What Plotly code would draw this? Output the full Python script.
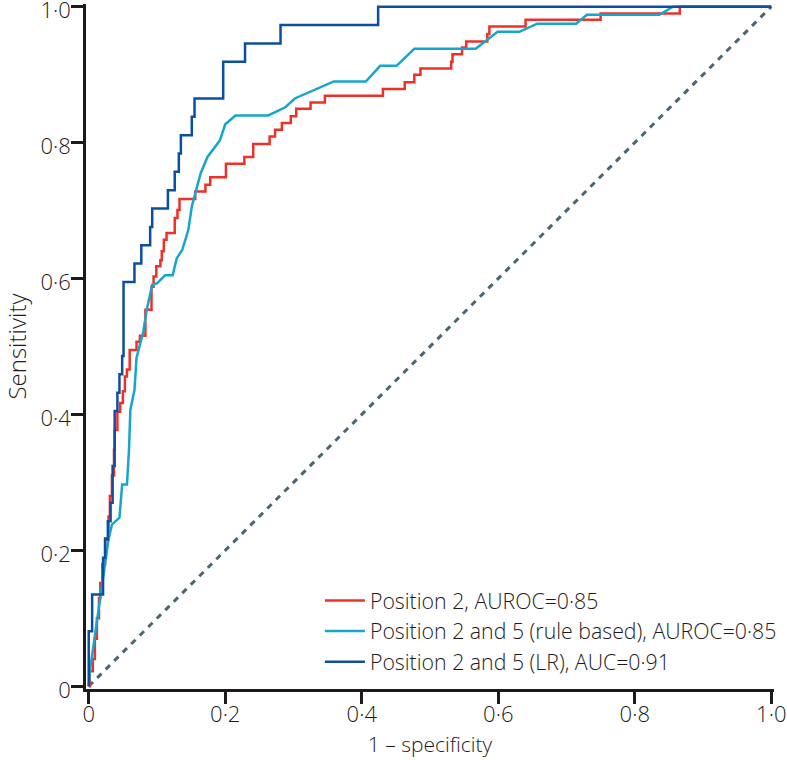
import plotly.graph_objects as go

# ROC curve data (1 - specificity, sensitivity)
pos2_fpr = [0, 0.0015, 0.006, 0.009, 0.012, 0.015, 0.017, 0.020, 0.024, 0.029, 0.031, 0.034, 0.037,
            0.038, 0.042, 0.046, 0.050, 0.053, 0.056, 0.060, 0.070, 0.075, 0.083, 0.092, 0.095,
            0.099, 0.105, 0.107, 0.110, 0.114, 0.126, 0.130, 0.133, 0.156, 0.171, 0.178, 0.201,
            0.228, 0.241, 0.265, 0.273, 0.283, 0.296, 0.304, 0.325, 0.346, 0.431, 0.463, 0.477,
            0.486, 0.531, 0.533, 0.547, 0.553, 0.584, 0.587, 0.640, 0.750, 0.866, 1.0]
pos2_tpr = [0, 0.022, 0.040, 0.070, 0.100, 0.130, 0.152, 0.180, 0.218, 0.250, 0.280, 0.310, 0.348,
            0.377, 0.404, 0.417, 0.434, 0.456, 0.466, 0.495, 0.507, 0.516, 0.554, 0.588, 0.603,
            0.618, 0.627, 0.640, 0.657, 0.667, 0.689, 0.701, 0.717, 0.728, 0.738, 0.749, 0.769,
            0.779, 0.798, 0.809, 0.819, 0.829, 0.839, 0.850, 0.859, 0.869, 0.879, 0.889, 0.900,
            0.909, 0.919, 0.930, 0.940, 0.949, 0.960, 0.971, 0.981, 0.990, 1.0, 1.0]

rule_fpr = [0, 0.002, 0.029, 0.034, 0.045, 0.049, 0.056, 0.059, 0.061, 0.067, 0.070, 0.080, 0.085,
            0.093, 0.100, 0.112, 0.123, 0.129, 0.137, 0.146, 0.151, 0.159, 0.164, 0.174, 0.192,
            0.200, 0.215, 0.263, 0.288, 0.302, 0.359, 0.406, 0.427, 0.451, 0.477, 0.567, 0.599,
            0.631, 0.657, 0.714, 0.730, 0.836, 0.856, 1.0]
rule_tpr = [0, 0.025, 0.216, 0.238, 0.248, 0.297, 0.297, 0.348, 0.407, 0.436, 0.483, 0.522, 0.554,
            0.591, 0.593, 0.605, 0.605, 0.630, 0.642, 0.672, 0.706, 0.735, 0.755, 0.779, 0.803,
            0.827, 0.840, 0.840, 0.852, 0.865, 0.890, 0.890, 0.913, 0.913, 0.938, 0.938, 0.963,
            0.963, 0.975, 0.975, 0.988, 0.988, 1.0, 1.0]

lr_fpr = [0, 0, 0.005, 0.021, 0.024, 0.028, 0.032, 0.035, 0.038, 0.042, 0.045, 0.049, 0.051,
          0.067, 0.077, 0.090, 0.093, 0.116, 0.126, 0.132, 0.135, 0.151, 0.155, 0.197, 0.229,
          0.281, 0.424, 1.0]
lr_tpr = [0, 0.081, 0.135, 0.189, 0.216, 0.243, 0.270, 0.324, 0.405, 0.432, 0.459, 0.486, 0.595,
          0.622, 0.649, 0.676, 0.703, 0.730, 0.757, 0.784, 0.811, 0.838, 0.865, 0.919, 0.946,
          0.973, 1.0, 1.0]

ref_x = [0, 1]
ref_y = [0, 1]

names = ["Position 2, AUROC=0·85",
         "Position 2 and 5 (rule based), AUROC=0·85",
         "Position 2 and 5 (LR), AUC=0·91"]
colors = ["#ee3128", "#17a6cb", "#0c4f9f"]

tick_vals = [0, 0.2, 0.4, 0.6, 0.8, 1.0]
tick_text = ["0", "0·2", "0·4", "0·6", "0·8", "1·0"]

FONT = "Open Sans"
TXT = "#1e1a1b"

fig = go.Figure()
fig.add_trace(go.Scatter(x=ref_x, y=ref_y, mode="lines", showlegend=False,
                         line=dict(color="#4a6670", width=3, dash="6px,6px")))
fig.add_trace(go.Scatter(x=pos2_fpr, y=pos2_tpr, mode="lines", name=names[0],
                         line=dict(color=colors[0], width=2.5, shape="hv")))
fig.add_trace(go.Scatter(x=rule_fpr, y=rule_tpr, mode="lines", name=names[1],
                         line=dict(color=colors[1], width=2.5)))
fig.add_trace(go.Scatter(x=lr_fpr, y=lr_tpr, mode="lines", name=names[2],
                         line=dict(color=colors[2], width=2.5, shape="hv")))

axis_common = dict(range=[-0.004, 1.004], tickvals=tick_vals, ticktext=tick_text,
                   showline=True, linecolor=TXT, linewidth=2.5, ticks="outside",
                   ticklen=12, tickwidth=2.5, tickcolor=TXT, showgrid=False, zeroline=False,
                   ticklabeloverflow="allow", automargin=False,
                   tickfont=dict(family=FONT, size=22, weight=300, color=TXT))

fig.update_layout(
    width=787, height=760,
    margin=dict(l=86, r=13, t=4, b=71),
    paper_bgcolor="white", plot_bgcolor="white",
    xaxis=dict(**axis_common, ticklabelstandoff=-8,
               title=dict(text="1 – specificity", standoff=11,
                          font=dict(family=FONT, size=21, weight=300, color=TXT))),
    yaxis=dict(**axis_common, ticklabelstandoff=-4, ticklabelshift=4,
               title=dict(text="Sensitivity", standoff=20,
                          font=dict(family=FONT, size=24, weight=300, color=TXT))),
    legend=dict(x=0.34, y=0.159, xanchor="left", yanchor="top",
                font=dict(family=FONT, size=21.3, weight=300, color=TXT),
                bgcolor="rgba(0,0,0,0)", itemwidth=40, tracegroupgap=0),
    showlegend=True,
)

fig.write_html("out.html", config={"displayModeBar": False},
               post_script="document.body.style.margin='0px';")
